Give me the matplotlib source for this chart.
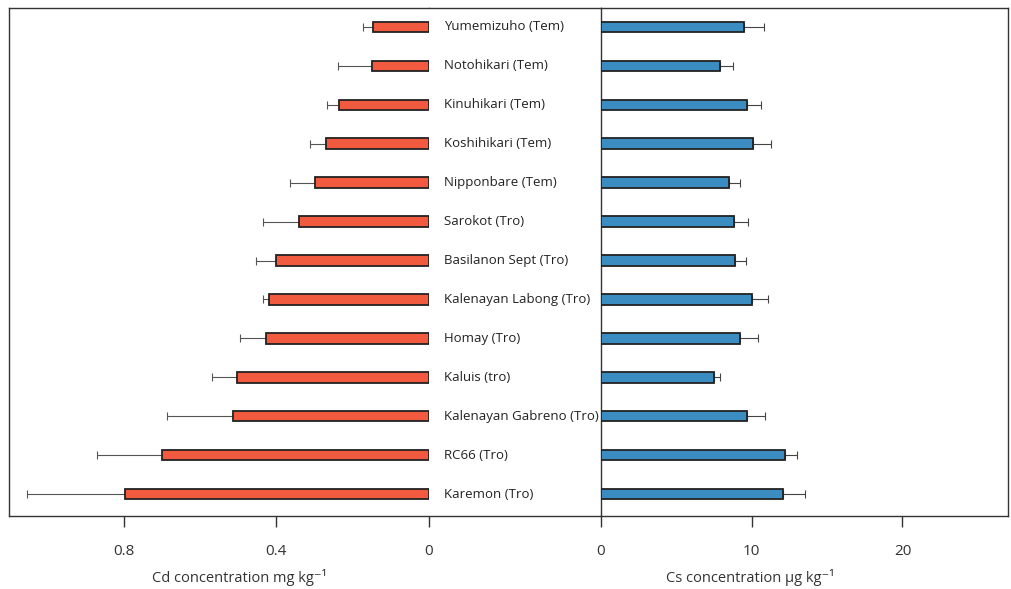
import numpy as np
import matplotlib
matplotlib.use("Agg")
import matplotlib.pyplot as plt

plt.rcParams['font.family'] = ['Open Sans', 'DejaVu Sans']

cultivars = ["Yumemizuho (Tem)", "Notohikari (Tem)", "Kinuhikari (Tem)", "Koshihikari (Tem)",
             "Nipponbare (Tem)", "Sarokot (Tro)", "Basilanon Sept (Tro)", "Kalenayan Labong (Tro)",
             "Homay (Tro)", "Kaluis (tro)", "Kalenayan Gabreno (Tro)", "RC66 (Tro)", "Karemon (Tro)"]

# Cd concentration mg/kg and its error
cd_mean = [0.147, 0.150, 0.236, 0.270, 0.299, 0.341, 0.402, 0.420, 0.426, 0.503, 0.514, 0.698, 0.795]
cd_err = [0.026, 0.089, 0.032, 0.042, 0.066, 0.094, 0.050, 0.015, 0.070, 0.066, 0.171, 0.171, 0.257]

# Cs concentration ug/kg and its error
cs_mean = [9.5, 7.9, 9.7, 10.1, 8.5, 8.8, 8.9, 10.0, 9.2, 7.5, 9.7, 12.2, 12.1]
cs_err = [1.3, 0.85, 0.9, 1.2, 0.7, 0.95, 0.7, 1.05, 1.2, 0.4, 1.2, 0.8, 1.4]

cd_ticks = [0.8, 0.4, 0]
cd_ticklabels = ["0.8", "0.4", "0"]
cs_ticks = [0, 10, 20]
cs_ticklabels = ["0", "10", "20"]

red = "#f15a3f"
blue = "#3a8cc1"

fig = plt.figure(figsize=(10.11, 5.89), dpi=100)
bottom = 73 / 589
height = 508 / 589
ax_l = fig.add_axes([9 / 1011, bottom, 420 / 1011, height])
ax_m = fig.add_axes([429 / 1011, bottom, 172 / 1011, height])
ax_r = fig.add_axes([601 / 1011, bottom, 407 / 1011, height])

y = np.arange(len(cultivars))
ylim = (12.565, -0.488)
bh = 0.27

ax_l.barh(y, cd_mean, height=bh, color=red, edgecolor="#222222", linewidth=1.3, zorder=3)
ax_l.errorbar(cd_mean, y, xerr=[np.zeros(len(y)), cd_err], fmt="none", ecolor="#555555",
              elinewidth=0.8, capsize=3, capthick=0.8, zorder=2)
ax_l.set_xlim(1.1, 0)
ax_l.set_xticks(cd_ticks)
ax_l.set_xticklabels(cd_ticklabels)

ax_r.barh(y, cs_mean, height=bh, color=blue, edgecolor="#222222", linewidth=1.3, zorder=3)
ax_r.errorbar(cs_mean, y, xerr=[np.zeros(len(y)), cs_err], fmt="none", ecolor="#444444",
              elinewidth=0.8, capsize=3, capthick=0.8, zorder=2)
ax_r.set_xlim(0, 27)
ax_r.set_xticks(cs_ticks)
ax_r.set_xticklabels(cs_ticklabels)

ax_m.set_xlim(0, 172)
ax_m.set_xticks([])
for i, name in enumerate(cultivars):
    ax_m.text(15, i, name, ha="left", va="center", fontsize=9.5, color="#222222")

for ax in (ax_l, ax_m, ax_r):
    ax.set_ylim(*ylim)
    ax.set_yticks([])
    for s in ax.spines.values():
        s.set_color("#333333")
        s.set_linewidth(1.0)
    ax.tick_params(axis="x", direction="out", length=8, width=1, pad=12,
                   labelsize=11, colors="#333333")

ax_l.spines["right"].set_visible(False)
ax_m.spines["left"].set_visible(False)
ax_m.spines["right"].set_visible(False)

fig.text(239 / 1011, 1 - 577 / 589, "Cd concentration mg kg⁻¹", ha="center", va="center",
         fontsize=10.5, color="#333333")
fig.text(750 / 1011, 1 - 577 / 589, "Cs concentration µg kg⁻¹", ha="center", va="center",
         fontsize=10.5, color="#333333")

fig.savefig("out.png", dpi=100)
